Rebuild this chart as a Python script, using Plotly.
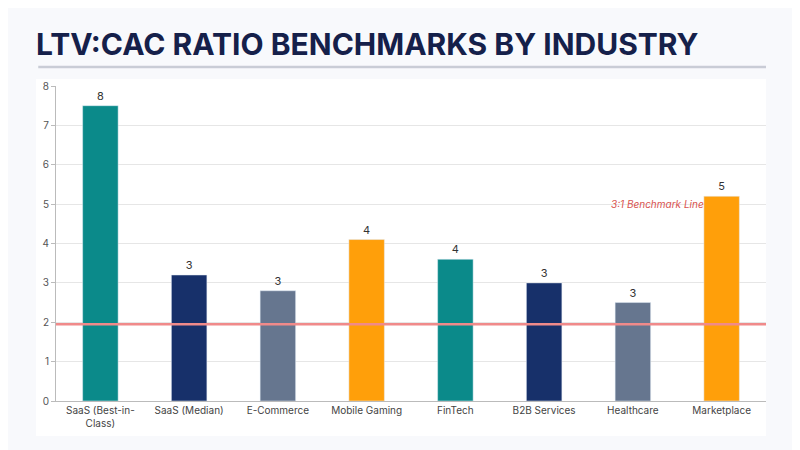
import plotly.graph_objects as go

industries = ["SaaS (Best-in-<br>Class)", "SaaS (Median)", "E-Commerce", "Mobile Gaming",
              "FinTech", "B2B Services", "Healthcare", "Marketplace"]
ratios = [7.5, 3.2, 2.8, 4.1, 3.6, 3.0, 2.5, 5.2]
labels = ["8", "3", "3", "4", "4", "3", "3", "5"]
bar_colors = ["#0b8a8a", "#17306a", "#66768f", "#ff9f0a",
              "#0b8a8a", "#17306a", "#66768f", "#ff9f0a"]
benchmark = 1.95

fig = go.Figure()
fig.add_trace(go.Bar(
    x=industries, y=ratios, marker_color=bar_colors, width=0.4,
    text=labels, textposition="outside",
    textfont=dict(size=11, color="#333"), cliponaxis=False,
))

# white panel behind the plot
fig.add_shape(type="rect", xref="paper", yref="paper", x0=-0.028, x1=1.0, y0=-0.111, y1=1.022,
              fillcolor="white", line_width=0, layer="below")
# rule under the title
fig.add_shape(type="line", xref="paper", yref="paper", x0=-0.025, x1=1.0, y0=1.06, y1=1.06,
              line=dict(color="#c9ccd6", width=2.5))
fig.add_hline(y=benchmark, line=dict(color="#f08a8a", width=2.5))
fig.add_annotation(x=7, y=5.0, xref="x", yref="y", xanchor="right", xshift=-16,
                   text="<i>3:1 Benchmark Line</i>", showarrow=False,
                   font=dict(size=10, color="#d9534f"))

fig.update_layout(
    width=800, height=450,
    paper_bgcolor="#f8f9fc", plot_bgcolor="white",
    margin=dict(l=48, r=42, t=78, b=57),
    font=dict(family="Inter, Roboto, sans-serif"),
    title=dict(text="<b>LTV:CAC RATIO BENCHMARKS BY INDUSTRY</b>", x=0.035, xanchor="left",
               y=0.92, yanchor="middle", font=dict(size=30, color="#15204a")),
    showlegend=False, bargap=0.5,
    xaxis=dict(tickfont=dict(size=10, color="#444"), showline=True, linecolor="#bbb"),
    yaxis=dict(range=[0, 8], dtick=1, tickfont=dict(size=10, color="#555"),
               gridcolor="#e6e6e6", showline=True, linecolor="#bbb", ticks="outside",
               ticklen=4, tickcolor="#bbb", zeroline=False),
)
fig.write_html("out.html")
